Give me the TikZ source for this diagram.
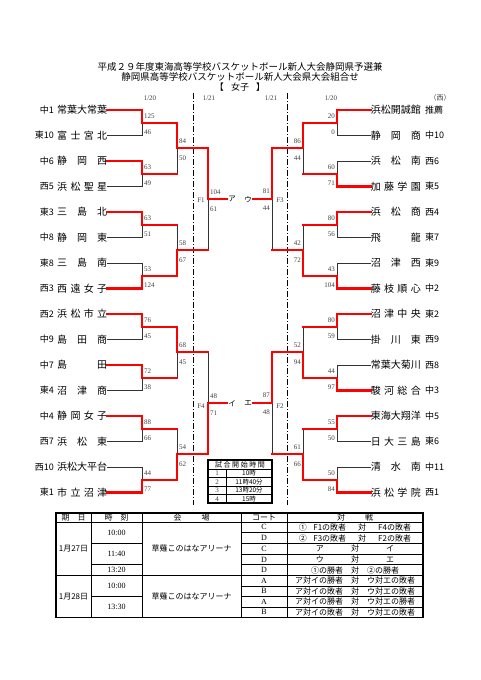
\documentclass[tikz,border=0pt]{standalone}
\usepackage{fontspec}
\setmainfont{Liberation Serif}
\newfontfamily\jp{Noto Sans CJK JP}
\begin{document}
\begin{tikzpicture}[x=1pt, y=-1pt,
    team/.style = {font=\jp\fontsize{10}{10}\selectfont, inner sep=0pt},
    pref/.style = {font=\jp\fontsize{9}{9}\selectfont, inner sep=0pt},
    score/.style = {font=\fontsize{7}{7}\selectfont, inner sep=1pt, text=black!75},
    kana/.style = {font=\jp\fontsize{7.5}{7.5}\selectfont, inner sep=1pt},
    edge/.style = {black!80, line width=.8pt},
    win/.style = {red, line width=2.3pt, line cap=rect},
    court/.style = {line width=1pt, dash pattern=on 6pt off 2pt on 1pt off 2pt},
    cell/.style = {font=\jp\fontsize{8}{8}\selectfont, inner sep=0pt},
    tiny/.style = {font=\jp\fontsize{6.5}{6.5}\selectfont, inner sep=0pt}]

  \useasboundingbox (0,0) rectangle (481,680);

  \node [font=\jp\fontsize{9.5}{9.5}\selectfont] (title1) at (240,66.5)
    {平成２９年度東海高等学校バスケットボール新人大会静岡県予選兼};
  \node [font=\jp\fontsize{9.5}{9.5}\selectfont] (title2) at (240,77)
    {静岡県高等学校バスケットボール新人大会県大会組合せ};
  \node [font=\jp\fontsize{9}{9}\selectfont] (title3) at (240,87.5)
    {【\hspace{.8em}女子\hspace{.8em}】};

  \node [score] (day1) at (150,98) {1/20};
  \node [score] (day2) at (209,98) {1/21};
  \node [score] (day3) at (271,98) {1/21};
  \node [score] (day4) at (331,98) {1/20};
  \node [score, font=\jp\fontsize{7}{7}\selectfont] (west) at (440,98) {（西）};

  \draw [court] (193,93) -- (193,505);
  \draw [court] (287,93) -- (287,505);

  % left half
  \foreach \pr/\nm [count=\i] in {中1/常葉大常葉, 東10/富 士 宮 北, 中6/静 岡 西, 西5/浜 松 聖 星,
      東3/三 島 北, 中8/静 岡 東, 東8/三 島 南, 西3/西 遠 女 子,
      西2/浜 松 市 立, 中9/島 田 商, 中7/島 田, 東4/沼 津 商,
      中4/静 岡 女 子, 西7/浜 松 東, 西10/浜松大平台, 東1/市 立 沼 津} {
    \node [pref, anchor=east] (pL\i) at (54,{110+25.5*(\i-1)}) {\pr};
    \node [team, anchor=west] (tL\i) at (57,{110+25.5*(\i-1)}) {\makebox[50pt][s]{\nm}};
    \coordinate (aL\i) at (142,{110+25.5*(\i-1)});
    \draw [edge] (tL\i.east) -- (aL\i);
  }
  \foreach \m in {1,...,8}
    \coordinate (bL\m) at (177,{122.75+51*(\m-1)});
  \foreach \k in {1,...,4}
    \coordinate (cL\k) at (208,{148.25+102*(\k-1)});
  \node [kana] (kA) at (232,199.25) {ア};
  \node [kana] (kI) at (232,403.25) {イ};

  % right half
  \foreach \pr/\nm [count=\i] in {推薦/浜松開誠館, 中10/静 岡 商, 西6/浜 松 南, 東5/加 藤 学 園,
      西4/浜 松 商, 東7/飛 龍, 東9/沼 津 西, 中2/藤 枝 順 心,
      東2/沼 津 中 央, 西9/掛 川 東, 西8/常葉大菊川, 中3/駿 河 総 合,
      中5/東海大翔洋, 東6/日 大 三 島, 中11/清 水 南, 西1/浜 松 学 院} {
    \node [pref, anchor=west] (pR\i) at (425,{110+25.5*(\i-1)}) {\pr};
    \node [team, anchor=east] (tR\i) at (421,{110+25.5*(\i-1)}) {\makebox[50pt][s]{\nm}};
    \coordinate (aR\i) at (337,{110+25.5*(\i-1)});
    \draw [edge] (tR\i.west) -- (aR\i);
  }
  \foreach \m in {1,...,8}
    \coordinate (bR\m) at (303,{122.75+51*(\m-1)});
  \foreach \k in {1,...,4}
    \coordinate (cR\k) at (272,{148.25+102*(\k-1)});
  \node [kana] (kU) at (248,199.25) {ウ};
  \node [kana] (kE) at (248,403.25) {エ};

  % skeleton
  \foreach \s in {L,R} {
    \foreach \m in {1,...,8} {
      \pgfmathtruncatemacro\ta{2*\m-1}
      \pgfmathtruncatemacro\tb{2*\m}
      \draw [edge] (a\s\ta) |- (b\s\m);
      \draw [edge] (a\s\tb) |- (b\s\m);
    }
    \foreach \k in {1,...,4} {
      \pgfmathtruncatemacro\ta{2*\k-1}
      \pgfmathtruncatemacro\tb{2*\k}
      \draw [edge] (b\s\ta) |- (c\s\k);
      \draw [edge] (b\s\tb) |- (c\s\k);
    }
  }
  \draw [edge] (cL1) |- (kA.west);
  \draw [edge] (cL2) |- (kA.west);
  \draw [edge] (cL3) |- (kI.west);
  \draw [edge] (cL4) |- (kI.west);
  \draw [edge] (cR1) |- (kU.east);
  \draw [edge] (cR2) |- (kU.east);
  \draw [edge] (cR3) |- (kE.east);
  \draw [edge] (cR4) |- (kE.east);

  % winners and scores
  \foreach \wnr/\scA/\scB [count=\m] in {0/125/46, 0/63/49, 0/63/51, 1/53/124,
      0/76/45, 0/72/38, 0/88/66, 1/44/77} {
    \pgfmathtruncatemacro\i{2*\m-1+\wnr}
    \draw [win] (tL\i.east) -- (aL\i) |- (bL\m);
    \node [score, anchor=west] (sLa\m) at (143,{116+51*(\m-1)}) {\scA};
    \node [score, anchor=west] (sLb\m) at (143,{132+51*(\m-1)}) {\scB};
  }
  \foreach \wnr/\scA/\scB [count=\m] in {0/20/0, 1/60/71, 0/80/56, 1/43/104,
      0/80/59, 1/44/97, 0/55/50, 1/50/84} {
    \pgfmathtruncatemacro\i{2*\m-1+\wnr}
    \draw [win] (tR\i.west) -- (aR\i) |- (bR\m);
    \node [score, anchor=east] (sRa\m) at (336,{116+51*(\m-1)}) {\scA};
    \node [score, anchor=east] (sRb\m) at (336,{132+51*(\m-1)}) {\scB};
  }
  \foreach \wnr/\scA/\scB [count=\k] in {0/84/50, 1/58/67, 0/68/45, 1/54/62} {
    \pgfmathtruncatemacro\m{2*\k-1+\wnr}
    \draw [win] (bL\m) |- (cL\k);
    \node [score, anchor=west] (rLa\k) at (178,{140.75+102*(\k-1)}) {\scA};
    \node [score, anchor=west] (rLb\k) at (178,{157.75+102*(\k-1)}) {\scB};
  }
  \foreach \wnr/\scA/\scB [count=\k] in {0/86/44, 1/42/72, 1/52/94, 1/61/66} {
    \pgfmathtruncatemacro\m{2*\k-1+\wnr}
    \draw [win] (bR\m) |- (cR\k);
    \node [score, anchor=east] (rRa\k) at (302,{140.75+102*(\k-1)}) {\scA};
    \node [score, anchor=east] (rRb\k) at (302,{157.75+102*(\k-1)}) {\scB};
  }
  \draw [win] (cL1) |- (kA.west);
  \draw [win] (cL4) |- (kI.west);
  \draw [win] (cR1) |- (kU.east);
  \draw [win] (cR3) |- (kE.east);
  \node [score, anchor=west] (fLa1) at (209,191.75) {104};
  \node [score, anchor=west] (fLb1) at (209,208.75) {61};
  \node [score, anchor=west] (fLa2) at (209,395.75) {48};
  \node [score, anchor=west] (fLb2) at (209,412.75) {71};
  \node [score, anchor=east] (fRa1) at (271,190.75) {81};
  \node [score, anchor=east] (fRb1) at (271,208.25) {44};
  \node [score, anchor=east] (fRa2) at (271,394.75) {87};
  \node [score, anchor=east] (fRb2) at (271,412.25) {48};
  \node [score] (F1) at (201,200) {F1};
  \node [score] (F4) at (201,406) {F4};
  \node [score] (F3) at (280,200) {F3};
  \node [score] (F2) at (280,406) {F2};

  % start times
  \draw [line width=1.4pt] (208,460) rectangle (272,503);
  \foreach \y in {469,477.5,486,494.5}
    \draw [line width=.5pt] (208,\y) -- (272,\y);
  \draw [line width=.5pt] (226,469) -- (226,503);
  \node [font=\jp\fontsize{7}{7}\selectfont, inner sep=0pt] (start) at (240,464.5)
    {\makebox[50pt][s]{試 合 開 始 時 間}};
  \foreach \tm [count=\i] in {10時, 11時40分, 13時20分, 15時} {
    \node [score, inner sep=0pt] (no\i) at (217,{473.25+8.5*(\i-1)}) {\i};
    \node [tiny] (tm\i) at (249,{473.25+8.5*(\i-1)}) {\tm};
  }

  % schedule
  \draw [line width=1.6pt] (56,513) rectangle (423,617.5);
  \draw [line width=1pt] (56,522) -- (423,522);
  \draw [line width=1.4pt] (56,575.5) -- (423,575.5);
  \foreach \x in {91,142,241,287}
    \draw [line width=.8pt] (\x,513) -- (\x,617.5);
  \foreach \y in {532.7,543.4,554.1,564.8,586,596.75,607.1}
    \draw [line width=.7pt] (241,\y) -- (423,\y);
  \foreach \y in {543.4,564.8,596.75}
    \draw [line width=.7pt] (91,\y) -- (142,\y);
  \node [cell] (h1) at (73.5,517.5) {期\hspace{1em}日};
  \node [cell] (h2) at (116.5,517.5) {時\hspace{1em}刻};
  \node [cell] (h3) at (191.5,517.5) {会\hspace{2.5em}場};
  \node [cell] (h4) at (264,517.5) {コート};
  \node [cell] (h5) at (355,517.5) {対\hspace{2.5em}戦};
  \node [cell] (dt1) at (73.5,548.75) {1月27日};
  \node [cell] (dt2) at (73.5,596.5) {1月28日};
  \node [cell] (pl1) at (191.5,548.75) {草薙このはなアリーナ};
  \node [cell] (pl2) at (191.5,596.5) {草薙このはなアリーナ};
  \node [cell, font=\fontsize{8}{8}\selectfont] (ti1) at (116.5,533) {10:00};
  \node [cell, font=\fontsize{8}{8}\selectfont] (ti2) at (116.5,554.1) {11:40};
  \node [cell, font=\fontsize{8}{8}\selectfont] (ti3) at (116.5,570.15) {13:20};
  \node [cell, font=\fontsize{8}{8}\selectfont] (ti4) at (116.5,586) {10:00};
  \node [cell, font=\fontsize{8}{8}\selectfont] (ti5) at (116.5,607.1) {13:30};
  \foreach \ct/\vs [count=\i] in {
      C/①\hspace{.8em}F1の敗者\hspace{1.5em}対\hspace{1.5em}F4の敗者,
      D/②\hspace{.8em}F3の敗者\hspace{1.5em}対\hspace{1.5em}F2の敗者,
      C/ア\hspace{3.4em}対\hspace{3.4em}イ,
      D/ウ\hspace{3.4em}対\hspace{3.4em}エ,
      D/①の勝者\hspace{1em}対\hspace{1em}②の勝者} {
    \node [cell, font=\fontsize{8}{8}\selectfont] (ct\i) at (264,{527.35+10.7*(\i-1)}) {\ct};
    \node [cell] (vs\i) at (355,{527.35+10.7*(\i-1)}) {\vs};
  }
  \foreach \ct/\vs [count=\i from 6] in {
      A/ア対イの勝者\hspace{1em}対\hspace{1em}ウ対エの敗者,
      B/ア対イの敗者\hspace{1em}対\hspace{1em}ウ対エの敗者,
      A/ア対イの勝者\hspace{1em}対\hspace{1em}ウ対エの勝者,
      B/ア対イの敗者\hspace{1em}対\hspace{1em}ウ対エの敗者} {
    \node [cell, font=\fontsize{8}{8}\selectfont] (ct\i) at (264,{580.75+10.5*(\i-6)}) {\ct};
    \node [cell] (vs\i) at (355,{580.75+10.5*(\i-6)}) {\vs};
  }
\end{tikzpicture}
\end{document}
